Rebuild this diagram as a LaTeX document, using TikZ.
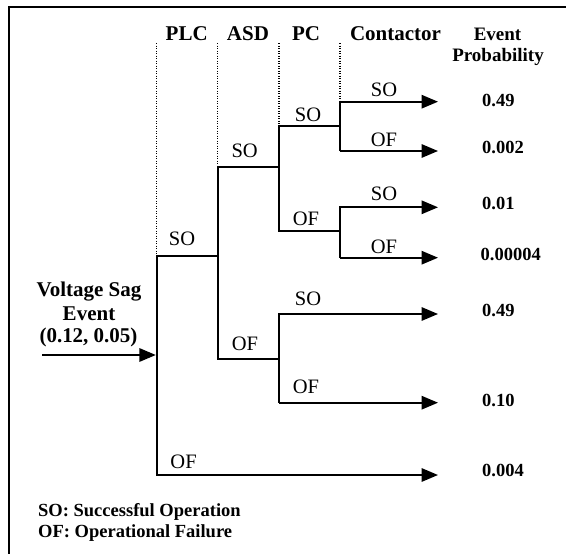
\documentclass[tikz,border=0pt]{standalone}
\usepackage{fontspec}
\setmainfont{Liberation Serif}
\usetikzlibrary{arrows.meta}
\begin{document}
\begin{tikzpicture}[x=1pt,y=-1pt,
  tree/.style={line width=1.7pt},
  arr/.style={line width=1.7pt,-{Triangle[length=16.5pt,width=13.5pt]}},
  guide/.style={line width=1.5pt,dash pattern=on 1.3pt off 1.2pt},
  frameline/.style={line width=2.2pt},
  hdr/.style={font=\fontsize{21}{23}\selectfont\bfseries,inner sep=0pt,anchor=base},
  hdrs/.style={font=\fontsize{19}{21}\selectfont\bfseries,inner sep=0pt,anchor=base},
  lbl/.style={font=\fontsize{20.5}{22}\selectfont,inner sep=0pt,anchor=base},
  prob/.style={font=\fontsize{18.5}{20}\selectfont\bfseries,inner sep=0pt,anchor=base west},
  legend/.style={font=\fontsize{18.5}{20}\selectfont\bfseries,inner sep=0pt,anchor=base west},
  ]
\useasboundingbox (0,0) rectangle (566,554);

% frame
\coordinate (fbl) at (9,556);
\coordinate (ftl) at (9,7);
\coordinate (ftr) at (568,7);
\draw[frameline] (fbl) -- (ftl) -- (ftr);

% guide tops
\coordinate (plcT) at (156.7,43);
\coordinate (asdT) at (217.7,43);
\coordinate (pcT) at (279,43);
\coordinate (conT) at (340,43);

% junctions
\coordinate (plc1) at (156.7,256);
\coordinate (plcin) at (155.8,355);
\coordinate (plc2) at (156.7,475);
\coordinate (asd1) at (217.7,166.7);
\coordinate (asdm) at (217.7,256);
\coordinate (asd2) at (217.7,359);
\coordinate (pcA1) at (279,126);
\coordinate (pcAm) at (279,166.7);
\coordinate (pcA2) at (279,231);
\coordinate (pcB1) at (279,314);
\coordinate (pcBm) at (279,359);
\coordinate (pcB2) at (279,402.7);
\coordinate (conA1) at (340,101.7);
\coordinate (conAm) at (340,126);
\coordinate (conA2) at (340,151);
\coordinate (conB1) at (340,207.3);
\coordinate (conBm) at (340,231);
\coordinate (conB2) at (340,257.7);
\coordinate (in) at (42,355);

% ends
\coordinate (e1) at (438,101.7);
\coordinate (e2) at (438,151);
\coordinate (e3) at (438,207.3);
\coordinate (e4) at (438,257.7);
\coordinate (e5) at (438,314);
\coordinate (e6) at (438,402.7);
\coordinate (e7) at (438,475);

% dotted guides
\draw[guide] (plcT) -- (plc1);
\draw[guide] (asdT) -- (asd1);
\draw[guide] (pcT) -- (pcA1);
\draw[guide] (conT) -- (conA1);

% tree
\draw[arr] (in) -- (plcin);
\draw[arr] (asdm) -- (plc1) -- (plc2) -- (e7);
\draw[tree] (pcAm) -- (asd1) -- (asd2) -- (pcBm);
\draw[tree] (conAm) -- (pcA1) -- (pcA2) -- (conBm);
\draw[arr] (conA2) -- (conA1) -- (e1);
\draw[arr] (conA2) -- (e2);
\draw[arr] (conB2) -- (conB1) -- (e3);
\draw[arr] (conB2) -- (e4);
\draw[arr] (pcB2) -- (pcB1) -- (e5);
\draw[arr] (pcB2) -- (e6);

% headers
\node[hdr] (hPLC) at (186.7,40.5) {PLC};
\node[hdr] (hASD) at (248,40.5) {ASD};
\node[hdr] (hPC) at (306,40.5) {PC};
\node[hdr] (hCon) at (395.5,40.5) {Contactor};
\node[hdrs] (hEv) at (497.5,40) {Event};
\node[hdrs] (hPr) at (498,61.7) {Probability};

% branch labels
\node[lbl] (lcSO1) at (384,96.5) {SO};
\node[lbl] (lcOF1) at (384,146) {OF};
\node[lbl] (lpSO1) at (308,121) {SO};
\node[lbl] (laSO) at (244.7,157) {SO};
\node[lbl] (lcSO2) at (384,200) {SO};
\node[lbl] (lpOF1) at (306,225) {OF};
\node[lbl] (lcOF2) at (384,253) {OF};
\node[lbl] (llSO) at (182,245.7) {SO};
\node[lbl] (lpSO2) at (308,305) {SO};
\node[lbl] (laOF) at (245,350) {OF};
\node[lbl] (lpOF2) at (306,393.3) {OF};
\node[lbl] (llOF) at (183.6,468.3) {OF};

% probabilities
\node[prob] (p1) at (482,106) {0.49};
\node[prob] (p2) at (482,153.3) {0.002};
\node[prob] (p3) at (482,209.4) {0.01};
\node[prob] (p4) at (480.5,260) {0.00004};
\node[prob] (p5) at (482,316) {0.49};
\node[prob] (p6) at (482,406.7) {0.10};
\node[prob] (p7) at (482,476.7) {0.004};

% event
\node[hdr] (v1) at (89,296.7) {Voltage Sag};
\node[hdr] (v2) at (89,320) {Event};
\node[hdr] (v3) at (88.5,342.7) {(0.12, 0.05)};

% legend
\node[legend] (lg1) at (38,516.7) {SO: Successful Operation};
\node[legend] (lg2) at (38,537.3) {OF: Operational Failure};
\end{tikzpicture}
\end{document}
